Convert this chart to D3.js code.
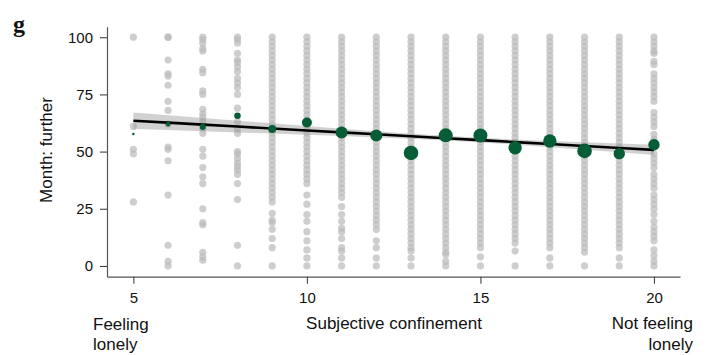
<!DOCTYPE html>
<html><head><meta charset="utf-8">
<script src="https://cdn.jsdelivr.net/npm/d3@7"></script>
<style>
html,body{margin:0;padding:0;background:#fff;}
svg{display:block;font-family:"Liberation Sans",Arial,Helvetica,sans-serif;}
</style></head>
<body><svg id="chart" width="711" height="355"></svg>
<script>
// ---- data ----
const xCategories = [5,6,7,8,9,10,11,12,13,14,15,16,17,18,19,20];
const yTicks = [0,25,50,75,100];
const xTicks = [5,10,15,20];
// group means (green points) and group sizes
const groupMean = [57.7,62.0,60.8,65.7,59.9,62.7,58.3,57.0,49.4,57.1,57.0,51.7,54.6,50.3,49.1,53.0];
const groupCount = [3,10,17,20,30,47,68,68,100,92,92,84,84,100,61,61];
// regression fit and its confidence band
const fitY  = [63.5,62.65,61.8,60.95,60.1,59.25,58.4,57.55,56.7,55.85,55.0,54.15,53.3,52.45,51.6,50.75];
const bandHi= [67.1,65.9,64.71,63.52,62.34,61.17,60.02,58.9,57.84,56.87,56.02,55.29,54.65,54.07,53.52,52.99];
const bandLo= [59.9,59.4,58.89,58.38,57.86,57.33,56.78,56.2,55.56,54.83,53.98,53.01,51.95,50.83,49.68,48.51];
// individual responses per confinement score (grey points)
const grayCol5  = [100,61,51,49,28];
const grayCol6  = [100,100,90,84,83,79,72,68,62,52,51,46,31,9,2,0];
const grayCol7  = [100,99,97.5,95,94,86,84.5,76.5,75,68.5,66.5,65,63,60,58,51,48,43,39,36,25,19,18,6,4,2.5];
const grayCol8  = [100,99,97.5,93,90,89,87,85,82,80,78,75,69,63,60,58,50,49,47,45,43.5,42,40,36,29,9,0];
const grayCol9  = [100,98,96,94,92,90,88,86,84,82,80,78,76,74,72,70,68,66,64,62,60,58,56,54,52,50,48,46,44,42,40,38,36,34,32,30,28,23,20,19,16,12,8,0];
const grayCol10 = [100,98,96,94,92,90,88,86,84,82,80,78,76,74,72,70,68,66,64,62,60,58,56,54,52,50,48,46,44,42,40,38,36,31,27,22.5,19.5,15,11,7,3.5,0];
const grayCol11 = [100,98,96,94,92,90,88,86,84,82,80,78,76,74,72,70,68,66,64,62,60,58,56,54,52,50,48,46,44,42,40,38,36,34,32,30,26,22.5,19.5,16.5,15,12,8,6.5,3.5,0];
const grayCol12 = [100,98,96,94,92,90,88,86,84,82,80,78,76,74,72,70,68,66,64,62,60,58,56,54,52,50,48,46,44,42,40,38,36,34,32,30,28,26,24,22,20,18,16,11,8,3.5,0];
const grayCol13 = [100,98,96,94,92,90,88,86,84,82,80,78,76,74,72,70,68,66,64,62,60,58,56,54,52,50,48,46,44,42,40,38,36,34,32,30,28,26,24,22,20,18,16,14,12,10,8,6.5,3.5,0];
const grayCol14 = [100,98,96,94,92,90,88,86,84,82,80,78,76,74,72,70,68,66,64,62,60,58,56,54,52,50,48,46,44,42,40,38,36,34,32,30,28,26,24,22,20,18,16,14,12,10,8,6,5,2,0];
const grayCol15 = [100,98,96,94,92,90,88,86,84,82,80,78,76,74,72,70,68,66,64,62,60,58,56,54,52,50,48,46,44,42,40,38,36,34,32,30,28,26,24,22,20,18,16,14,12,10,8,4,0];
const grayCol16 = [100,98,96,94,92,90,88,86,84,82,80,78,76,74,72,70,68,66,64,62,60,58,56,54,52,50,48,46,44,42,40,38,36,34,32,30,28,26,24,22,20,18,16,14,12,10,6.5,0];
const grayCol17 = [100,98,96,94,92,90,88,86,84,82,80,78,76,74,72,70,68,66,64,62,60,58,56,54,52,50,48,46,44,42,40,38,36,34,32,30,28,26,24,22,20,18,16,14,12,10,8,3.5,0];
const grayCol18 = [100,98,96,94,92,90,88,86,84,82,80,78,76,74,72,70,68,66,64,62,60,58,56,54,52,50,48,46,44,42,40,38,36,34,32,30,28,26,24,22,20,18,16,14,12,10,8,6,0];
const grayCol19 = [100,98,96,94,92,90,88,86,84,82,80,78,76,74,72,70,68,66,64,62,60,58,56,54,52,50,48,46,44,42,40,38,36,34,32,30,28,26,24,22,20,18,16,14,12,10,8,3.5,0];
const grayCol20 = [100,98,96,94,93,89.5,88,84,82,80,78,76,74,72,67,65,63,61,57.5,55.5,54.5,49,47,45,43,40,38,36,34,31,29,27,25,22.5,19.5,17,15,13,11,7,4.5,2,0];
const grayCols = [grayCol5,grayCol6,grayCol7,grayCol8,grayCol9,grayCol10,grayCol11,grayCol12,grayCol13,grayCol14,grayCol15,grayCol16,grayCol17,grayCol18,grayCol19,grayCol20];

const panelLetter = "g";
const yTitle = "Month: further";
const xTitle = "Subjective confinement";
const leftNote = ["Feeling","lonely"];
const rightNote = ["Not feeling","lonely"];

// ---- drawing ----
const svg = d3.select("#chart");
const x = d3.scaleLinear().domain([4.24, 20.75]).range([107, 680]);
const y = d3.scaleLinear().domain([-4.7, 104.6]).range([276.7, 26.7]);
const r = d3.scaleSqrt().domain([0, 100]).range([0, 7.3]);

const grayPts = [];
xCategories.forEach((c,i)=>grayCols[i].forEach(v=>grayPts.push({x:c,y:v})));

svg.append("g").selectAll("circle").data(grayPts).join("circle")
  .attr("cx",d=>x(d.x)).attr("cy",d=>y(d.y)).attr("r",3.6)
  .attr("fill","#bbbbbb").attr("fill-opacity",0.72);

const fitData = xCategories.map((c,i)=>({x:c,fit:fitY[i],lo:bandLo[i],hi:bandHi[i]}));
svg.append("path").datum(fitData)
  .attr("d", d3.area().x(d=>x(d.x)).y0(d=>y(d.lo)).y1(d=>y(d.hi)))
  .attr("fill","#999").attr("fill-opacity",0.45);
svg.append("path").datum(fitData)
  .attr("d", d3.line().x(d=>x(d.x)).y(d=>y(d.fit)))
  .attr("fill","none").attr("stroke","#000").attr("stroke-width",2.6);

svg.append("g").selectAll("circle").data(xCategories.map((c,i)=>({x:c,m:groupMean[i],n:groupCount[i]})))
  .join("circle")
  .attr("cx",d=>x(d.x)).attr("cy",d=>y(d.m)).attr("r",d=>r(d.n))
  .attr("fill","#075e36");

// axes
const yAxis = svg.append("g").attr("transform","translate(107,0)")
  .call(d3.axisLeft(y).tickValues(yTicks).tickSize(7).tickSizeOuter(0).tickPadding(7));
const xAxis = svg.append("g").attr("transform","translate(0,276.7)")
  .call(d3.axisBottom(x).tickValues(xTicks).tickSize(7).tickSizeOuter(0).tickPadding(9));
[yAxis,xAxis].forEach(a=>{
  a.select(".domain").attr("stroke","#555").attr("stroke-width",1.2);
  a.selectAll(".tick line").attr("stroke","#444").attr("stroke-width",1.1);
  a.selectAll(".tick text").attr("fill","#111").style("font-size","15px")
    .style("font-family","'Liberation Sans',Arial,sans-serif");
});

// titles
svg.append("text").attr("transform","translate(52,150) rotate(-90)")
  .attr("text-anchor","middle").style("font-size","17px").attr("fill","#111").text(yTitle);
svg.append("text").attr("x",394).attr("y",328.5).attr("text-anchor","middle")
  .style("font-size","17px").attr("fill","#111").text(xTitle);
leftNote.forEach((t,i)=>svg.append("text").attr("x",93).attr("y",330+i*20)
  .style("font-size","17px").attr("fill","#111").text(t));
rightNote.forEach((t,i)=>svg.append("text").attr("x",693).attr("y",328.5+i*21.5).attr("text-anchor","end")
  .style("font-size","17px").attr("fill","#111").text(t));
svg.append("text").attr("x",13).attr("y",32).style("font-family","'Liberation Serif','DejaVu Serif',serif")
  .style("font-weight","bold").style("font-size","24px").attr("fill","#111").text(panelLetter);
</script></body></html>
